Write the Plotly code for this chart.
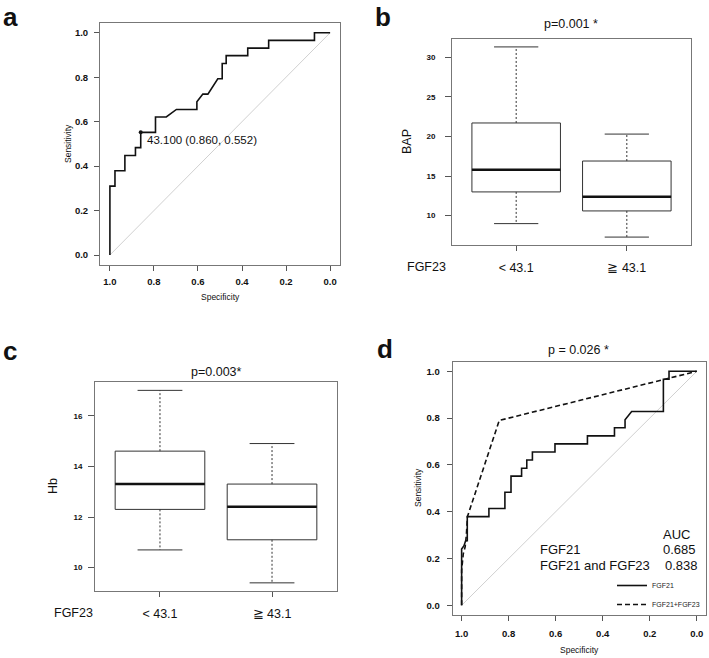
import plotly.graph_objects as go

W, H = 709, 658

# ---------------- data ----------------
# Panel a: ROC of FGF23
spec_a = [1.0, 1.0, 0.977, 0.977, 0.932, 0.932, 0.884, 0.884, 0.860, 0.860, 0.793, 0.793,
          0.744, 0.698, 0.605, 0.605, 0.578, 0.555, 0.510, 0.490, 0.490, 0.472, 0.472,
          0.374, 0.374, 0.279, 0.279, 0.071, 0.071, 0.0]
sens_a = [0.0, 0.310, 0.310, 0.379, 0.379, 0.448, 0.448, 0.483, 0.483, 0.552, 0.552, 0.621,
          0.621, 0.655, 0.655, 0.690, 0.724, 0.724, 0.793, 0.793, 0.862, 0.862, 0.897,
          0.897, 0.931, 0.931, 0.966, 0.966, 1.0, 1.0]
cut_spec, cut_sens = 0.860, 0.552
cut_label = "43.100 (0.860, 0.552)"

# Panels b, c: boxplots
groups = [1, 2]
group_labels = ["< 43.1", "≧ 43.1"]
bap_lo = [9.0, 7.3]
bap_q1 = [13.0, 10.6]
bap_med = [15.8, 12.4]
bap_q3 = [21.7, 16.9]
bap_hi = [31.3, 20.3]
hb_lo = [10.7, 9.4]
hb_q1 = [12.3, 11.1]
hb_med = [13.3, 12.4]
hb_q3 = [14.6, 13.3]
hb_hi = [17.0, 14.9]

# Panel d: ROC comparison
spec_fgf21 = [1.0, 1.0, 0.99, 0.983, 0.976, 0.976, 0.884, 0.884, 0.816, 0.816, 0.790, 0.790,
              0.745, 0.745, 0.723, 0.723, 0.699, 0.699, 0.603, 0.603, 0.465, 0.465, 0.350,
              0.350, 0.305, 0.305, 0.277, 0.142, 0.142, 0.118, 0.118, 0.0]
sens_fgf21 = [0.0, 0.241, 0.255, 0.276, 0.276, 0.379, 0.379, 0.414, 0.414, 0.483, 0.483, 0.552,
              0.552, 0.586, 0.586, 0.621, 0.621, 0.655, 0.655, 0.690, 0.690, 0.724, 0.724,
              0.759, 0.759, 0.793, 0.828, 0.828, 0.966, 0.966, 1.0, 1.0]
spec_comb = [1.0, 1.0, 0.993, 0.985, 0.980, 0.975, 0.840, 0.0]
sens_comb = [0.0, 0.150, 0.220, 0.250, 0.300, 0.380, 0.790, 1.0]
auc_names = ["FGF21", "FGF21 and FGF23"]
auc_values = ["0.685", "0.838"]

# ---------------- layout helpers ----------------
FONT = "Liberation Sans, Arial, sans-serif"
def fx(p):
    return p / W
def fy(p):
    return 1 - p / H

fig = go.Figure()

def box_panel(xa, ya, lo, q1, med, q3, hi):
    hw = 0.4
    fig.add_trace(go.Box(x=groups, q1=q1, median=med, q3=q3, lowerfence=q1, upperfence=q3,
                         width=2 * hw, whiskerwidth=0, fillcolor="white",
                         line=dict(color="#333", width=1), xaxis=xa, yaxis=ya,
                         showlegend=False, hoverinfo="skip"))
    mx, my, wx, wy, cx, cy = [], [], [], [], [], []
    for g, a, b, c, d, e in zip(groups, lo, q1, med, q3, hi):
        mx += [g - hw, g + hw, None]; my += [c, c, None]
        wx += [g, g, None, g, g, None]; wy += [d, e, None, b, a, None]
        cx += [g - hw / 2, g + hw / 2, None, g - hw / 2, g + hw / 2, None]
        cy += [e, e, None, a, a, None]
    fig.add_trace(go.Scatter(x=wx, y=wy, mode="lines", line=dict(color="#333", width=1, dash="2px,2px"),
                             xaxis=xa, yaxis=ya, showlegend=False, hoverinfo="skip"))
    fig.add_trace(go.Scatter(x=cx, y=cy, mode="lines", line=dict(color="#333", width=1),
                             xaxis=xa, yaxis=ya, showlegend=False, hoverinfo="skip"))
    fig.add_trace(go.Scatter(x=mx, y=my, mode="lines", line=dict(color="#111", width=2.5),
                             xaxis=xa, yaxis=ya, showlegend=False, hoverinfo="skip"))

# Panel a
fig.add_trace(go.Scatter(x=[1, 0], y=[0, 1], mode="lines", line=dict(color="#d0d0d0", width=1),
                         xaxis="x", yaxis="y", showlegend=False, hoverinfo="skip"))
fig.add_trace(go.Scatter(x=spec_a, y=sens_a, mode="lines", line=dict(color="#111", width=1.6),
                         xaxis="x", yaxis="y", showlegend=False))
fig.add_trace(go.Scatter(x=[cut_spec], y=[cut_sens], mode="markers",
                         marker=dict(color="#111", size=4), xaxis="x", yaxis="y", showlegend=False))

# Panel b, c
box_panel("x2", "y2", bap_lo, bap_q1, bap_med, bap_q3, bap_hi)
box_panel("x3", "y3", hb_lo, hb_q1, hb_med, hb_q3, hb_hi)

# Panel d
fig.add_trace(go.Scatter(x=[1, 0], y=[0, 1], mode="lines", line=dict(color="#d0d0d0", width=1),
                         xaxis="x4", yaxis="y4", showlegend=False, hoverinfo="skip"))
fig.add_trace(go.Scatter(x=spec_fgf21, y=sens_fgf21, mode="lines", name="FGF21",
                         line=dict(color="#111", width=1.6), xaxis="x4", yaxis="y4"))
fig.add_trace(go.Scatter(x=spec_comb, y=sens_comb, mode="lines", name="FGF21+FGF23",
                         line=dict(color="#111", width=1.6, dash="5px,3px"), xaxis="x4", yaxis="y4"))

axis_common = dict(showline=True, mirror=True, linecolor="#777", linewidth=1, ticks="outside",
                   ticklen=5, tickcolor="#555", showgrid=False, zeroline=False,
                   tickfont=dict(family=FONT, size=9.5, color="#111", weight="bold"))

def dom_x(a, b):
    return [fx(a), fx(b)]
def dom_y(top, bottom):
    return [fy(bottom), fy(top)]

roc_ticks = [1.0, 0.8, 0.6, 0.4, 0.2, 0.0]
roc_tick_text = ["1.0", "0.8", "0.6", "0.4", "0.2", "0.0"]
sens_ticks = [0.0, 0.2, 0.4, 0.6, 0.8, 1.0]
sens_tick_text = ["0.0", "0.2", "0.4", "0.6", "0.8", "1.0"]
small_bold = dict(family=FONT, size=8, color="#111", weight="bold")
big_plain = dict(family=FONT, size=12.5, color="#111")

fig.update_layout(
    width=W, height=H, margin=dict(l=0, r=0, t=0, b=0),
    paper_bgcolor="white", plot_bgcolor="white",
    font=dict(family=FONT, color="#111"),
    xaxis=dict(axis_common, domain=dom_x(100, 340), range=[1.045, -0.045],
               tickvals=roc_ticks, ticktext=roc_tick_text, anchor="y", ticklabelstandoff=3),
    yaxis=dict(axis_common, domain=dom_y(23, 265), range=[-0.045, 1.044],
               tickvals=sens_ticks, ticktext=sens_tick_text, anchor="x", ticklabelstandoff=4),
    xaxis2=dict(axis_common, domain=dom_x(452, 691), range=[0.42, 2.58],
                tickvals=groups, ticktext=group_labels, anchor="y2",
                tickfont=big_plain, ticklabelstandoff=6),
    yaxis2=dict(axis_common, domain=dom_y(39, 245), range=[6.3, 32.3],
                tickvals=[10, 15, 20, 25, 30], anchor="x2", ticklen=6,
                tickfont=small_bold, ticklabelstandoff=8),
    xaxis3=dict(axis_common, domain=dom_x(95, 337), range=[0.42, 2.58],
                tickvals=groups, ticktext=group_labels, anchor="y3",
                tickfont=big_plain, ticklabelstandoff=6),
    yaxis3=dict(axis_common, domain=dom_y(382, 590.7), range=[9.09, 17.33],
                tickvals=[10, 12, 14, 16], anchor="x3", ticklen=6,
                tickfont=small_bold, ticklabelstandoff=4),
    xaxis4=dict(axis_common, domain=dom_x(452.7, 705.7), range=[1.038, -0.038],
                tickvals=roc_ticks, ticktext=roc_tick_text, anchor="y4", ticklabelstandoff=5),
    yaxis4=dict(axis_common, domain=dom_y(361.7, 614.7), range=[-0.04, 1.041],
                tickvals=sens_ticks, ticktext=sens_tick_text, anchor="x4", ticklabelstandoff=5),
    legend=dict(x=fx(612), y=fy(571), xanchor="left", yanchor="top",
                bgcolor="rgba(0,0,0,0)", font=dict(family=FONT, size=7, color="#222"),
                itemwidth=30, tracegroupgap=0),
)

def txt(t, x, y, size, xanchor="center", yanchor="middle", angle=0, bold=False, **kw):
    fig.add_annotation(text=t, x=fx(x), y=fy(y), xref="paper", yref="paper",
                       xanchor=xanchor, yanchor=yanchor, showarrow=False, textangle=angle,
                       font=dict(family=FONT, size=size, color="#111",
                                 weight="bold" if bold else "normal"), **kw)

# panel letters
txt("a", 1, 0, 26, xanchor="left", yanchor="top", bold=True)
txt("b", 373, 0, 26, xanchor="left", yanchor="top", bold=True)
txt("c", 1, 334, 26, xanchor="left", yanchor="top", bold=True)
txt("d", 375, 332, 26, xanchor="left", yanchor="top", bold=True)

# panel a texts
txt("Sensitivity", 68, 144, 8.5, angle=-90)
txt("Specificity", 220, 297, 8.5)
fig.add_annotation(text=cut_label, x=cut_spec, y=cut_sens, xref="x", yref="y",
                   xanchor="left", yanchor="middle", xshift=4, yshift=-8, showarrow=False,
                   font=dict(family=FONT, size=11.5, color="#111"))

# panel b texts
txt("p=0.001 *", 571, 24, 12.5)
txt("BAP", 407, 142, 12.5, angle=-90)
txt("FGF23", 427, 267, 12.5)

# panel c texts
txt("p=0.003*", 216, 372, 12.5)
txt("Hb", 53, 486, 12.5, angle=-90)
txt("FGF23", 73, 613, 12.5)

# panel d texts
txt("p = 0.026 *", 578, 350, 12.5)
txt("Sensitivity", 418, 488, 8.5, angle=-90)
txt("Specificity", 579, 650, 8.5)
txt("AUC", 660.5, 534, 13, xanchor="left")
for name, val, yy, xv in zip(auc_names, auc_values, [549, 565.7], [661, 663]):
    txt(name, 537.5, yy, 13, xanchor="left")
    txt(val, xv, yy, 13, xanchor="left")

fig.write_html("out.html", config={"displayModeBar": False},
               post_script="document.body.style.margin='0';document.body.style.overflow='hidden';")
